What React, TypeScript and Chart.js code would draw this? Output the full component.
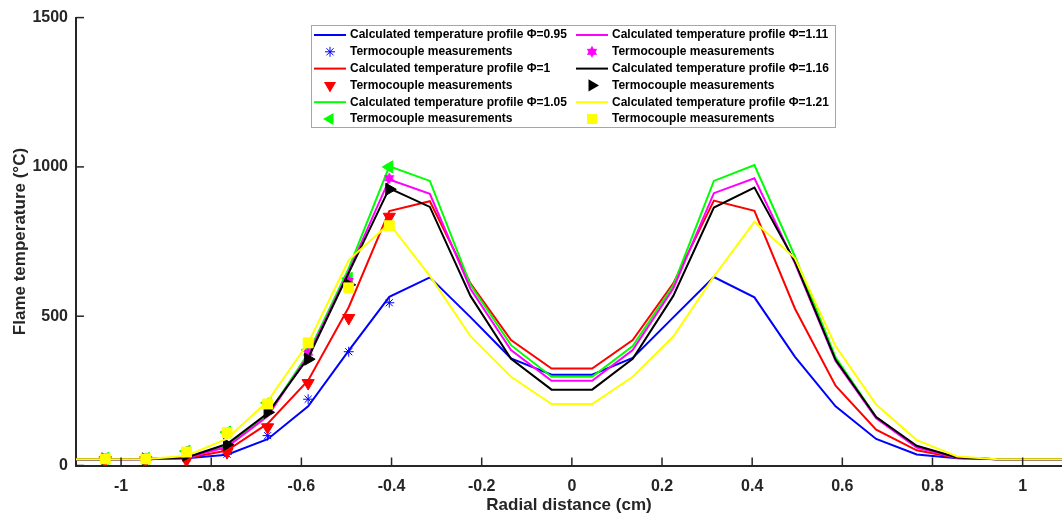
import React, { useEffect, useRef } from "react";
import { Chart, registerables } from "chart.js";

Chart.register(...registerables);

// ---------- DATA ----------
const radialGrid = [
  -1.125, -1.035, -0.945, -0.855, -0.765, -0.675, -0.585, -0.495, -0.405, -0.315, -0.225, -0.135, -0.045,
  0.045, 0.135, 0.225, 0.315, 0.405, 0.495, 0.585, 0.675, 0.765, 0.855, 0.945, 1.035, 1.125,
];

const profilePhi095 = [21, 21, 21, 24, 36, 88, 198, 385, 565, 630, 497, 359, 304, 304, 360, 496, 631, 563, 364, 198, 89, 37, 24, 21, 21, 21];
const profilePhi100 = [21, 21, 21, 24, 50, 140, 285, 530, 852, 885, 610, 420, 325, 325, 420, 610, 887, 853, 525, 267, 120, 51, 25, 21, 21, 21];
const profilePhi105 = [21, 21, 22, 26, 65, 170, 375, 660, 1002, 953, 605, 403, 297, 297, 400, 603, 953, 1006, 700, 362, 162, 62, 26, 21, 21, 21];
const profilePhi111 = [21, 21, 22, 26, 62, 165, 368, 650, 958, 910, 592, 387, 284, 284, 387, 593, 912, 962, 677, 350, 158, 60, 26, 21, 21, 21];
const profilePhi116 = [21, 21, 22, 27, 72, 175, 360, 645, 928, 866, 568, 357, 254, 254, 357, 568, 864, 931, 682, 354, 162, 66, 27, 21, 21, 21];
const profilePhi121 = [21, 21, 22, 32, 90, 215, 410, 688, 810, 635, 433, 297, 206, 206, 297, 432, 633, 816, 694, 400, 204, 85, 30, 21, 21, 21];

const measurementPositions = [-1.035, -0.945, -0.855, -0.765, -0.675, -0.585, -0.495, -0.405];
const measPhi095 = [22, 22, 25, 38, 100, 222, 381, 545];
const measPhi100 = [18, 18, 18, 45, 128, 276, 494, 833];
const measPhi105 = [24, 24, 48, 112, 210, 387, 627, 1000];
const measPhi111 = [23, 23, 46, 108, 200, 378, 618, 962];
const measPhi116 = [22, 22, 35, 70, 178, 356, 605, 925];
const measPhi121 = [22, 22, 45, 110, 206, 411, 595, 803];

const phiLabels = ["0.95", "1", "1.05", "1.11", "1.16", "1.21"];
const profileLabel = "Calculated temperature profile \u03A6=";
const measurementLabel = "Termocouple measurements";

const xTickValues = [-1, -0.8, -0.6, -0.4, -0.2, 0, 0.2, 0.4, 0.6, 0.8, 1];
const yTickValues = [0, 500, 1000, 1500];
const xAxisTitle = "Radial distance (cm)";
const yAxisTitle = "Flame temperature (\u00B0C)";

// ---------- STYLE ----------
const FONT = "'Liberation Sans', Arial, Helvetica, sans-serif";
const AXIS_COLOR = "#262626";
const seriesColors = ["#0000FF", "#FF0000", "#00FF00", "#FF00FF", "#000000", "#FFFF00"];
const markerKinds = ["star", "triDown", "triLeft", "hexagram", "triRight", "square"];

const profiles = [profilePhi095, profilePhi100, profilePhi105, profilePhi111, profilePhi116, profilePhi121];
const measurements = [measPhi095, measPhi100, measPhi105, measPhi111, measPhi116, measPhi121];

function makeHexagram(color: string, r: number): HTMLCanvasElement {
  const c = document.createElement("canvas");
  const s = Math.ceil(2 * r + 2);
  c.width = s;
  c.height = s;
  const g = c.getContext("2d")!;
  const cx = s / 2;
  const cy = s / 2;
  g.fillStyle = color;
  for (let t = 0; t < 2; t++) {
    g.beginPath();
    for (let k = 0; k < 3; k++) {
      const a = (t * 60 + k * 120 - 90) * (Math.PI / 180);
      const px = cx + r * Math.cos(a);
      const py = cy + r * Math.sin(a);
      if (k === 0) g.moveTo(px, py);
      else g.lineTo(px, py);
    }
    g.closePath();
    g.fill();
  }
  return c;
}

function drawTriangle(ctx: CanvasRenderingContext2D, x: number, y: number, r: number, rotDeg: number, color: string) {
  ctx.beginPath();
  for (let k = 0; k < 3; k++) {
    const a = (rotDeg + k * 120) * (Math.PI / 180);
    const px = x + Math.sin(a) * r;
    const py = y - Math.cos(a) * r;
    if (k === 0) ctx.moveTo(px, py);
    else ctx.lineTo(px, py);
  }
  ctx.closePath();
  ctx.fillStyle = color;
  ctx.fill();
}

function drawLegendMarker(ctx: CanvasRenderingContext2D, kind: string, x: number, y: number, color: string, hex: HTMLCanvasElement) {
  ctx.save();
  if (kind === "star") {
    const r = 5;
    ctx.strokeStyle = color;
    ctx.lineWidth = 1;
    ctx.beginPath();
    ctx.moveTo(x - r, y);
    ctx.lineTo(x + r, y);
    ctx.moveTo(x, y - r);
    ctx.lineTo(x, y + r);
    const d = r * Math.SQRT1_2;
    ctx.moveTo(x - d, y - d);
    ctx.lineTo(x + d, y + d);
    ctx.moveTo(x - d, y + d);
    ctx.lineTo(x + d, y - d);
    ctx.stroke();
  } else if (kind === "triDown") {
    drawTriangle(ctx, x, y, 7, 180, color);
  } else if (kind === "triLeft") {
    drawTriangle(ctx, x, y, 7, 270, color);
  } else if (kind === "triRight") {
    drawTriangle(ctx, x, y, 7, 90, color);
  } else if (kind === "square") {
    ctx.fillStyle = color;
    ctx.fillRect(x - 5, y - 5, 10, 10);
  } else if (kind === "hexagram") {
    ctx.drawImage(hex, x - hex.width / 2, y - hex.height / 2);
  }
  ctx.restore();
}

export default function App() {
  const canvasRef = useRef<HTMLCanvasElement | null>(null);

  useEffect(() => {
    if (!canvasRef.current) return;
    const hex = makeHexagram(seriesColors[3], 6);

    const datasets: any[] = [];
    let drawIndex = 0;
    for (let i = 0; i < 6; i++) {
      const color = seriesColors[i];
      datasets.push({
        label: profileLabel + phiLabels[i],
        data: radialGrid.map((x, j) => ({ x, y: profiles[i][j] })),
        showLine: true,
        borderColor: color,
        backgroundColor: color,
        borderWidth: 2,
        pointRadius: 0,
        tension: 0,
        order: 100 - drawIndex++,
      });
      const kind = markerKinds[i];
      let pointStyle: any = "triangle";
      let rotation = 0;
      let radius = 7;
      if (kind === "star") { pointStyle = "star"; radius = 5; }
      if (kind === "triDown") rotation = 180;
      if (kind === "triLeft") rotation = 270;
      if (kind === "triRight") rotation = 90;
      if (kind === "square") pointStyle = "rect";
      if (kind === "hexagram") { pointStyle = hex; radius = 6; }
      datasets.push({
        label: measurementLabel,
        data: measurementPositions.map((x, j) => ({ x, y: measurements[i][j] })),
        showLine: false,
        borderColor: color,
        backgroundColor: color,
        pointStyle,
        pointRotation: rotation,
        pointRadius: radius,
        pointBorderWidth: 1,
        pointBackgroundColor: kind === "star" ? "rgba(0,0,0,0)" : color,
        pointBorderColor: color,
        order: 100 - drawIndex++,
      });
    }

    const overlayPlugin = {
      id: "overlay",
      afterDraw(chart: any) {
        const ctx: CanvasRenderingContext2D = chart.ctx;
        const { left, bottom } = chart.chartArea;
        const xs = chart.scales.x;
        const ys = chart.scales.y;
        ctx.save();
        // inward tick marks
        ctx.strokeStyle = AXIS_COLOR;
        ctx.lineWidth = 1.5;
        yTickValues.forEach((v) => {
          const py = ys.getPixelForValue(v);
          ctx.beginPath();
          ctx.moveTo(left, py);
          ctx.lineTo(left + 8, py);
          ctx.stroke();
        });
        xTickValues.forEach((v) => {
          const px = xs.getPixelForValue(v);
          ctx.beginPath();
          ctx.moveTo(px, bottom);
          ctx.lineTo(px, bottom - 8);
          ctx.stroke();
        });

        // legend box
        const bx = 311.5, by = 25.5, bw = 524, bh = 102;
        ctx.fillStyle = "#ffffff";
        ctx.fillRect(bx, by, bw, bh);
        ctx.strokeStyle = "#a6a6a6";
        ctx.lineWidth = 1;
        ctx.strokeRect(bx, by, bw, bh);

        ctx.font = `bold 12px ${FONT}`;
        ctx.textBaseline = "middle";
        ctx.textAlign = "left";
        for (let i = 0; i < 6; i++) {
          const col = i < 3 ? 0 : 1;
          const rowBase = (i % 3) * 2;
          const lineX0 = col === 0 ? 314 : 576;
          const textX = col === 0 ? 350 : 612;
          const color = seriesColors[i];
          const y1 = 35 + rowBase * 16.8;
          const y2 = 35 + (rowBase + 1) * 16.8;
          ctx.strokeStyle = color;
          ctx.lineWidth = 2;
          ctx.beginPath();
          ctx.moveTo(lineX0, y1);
          ctx.lineTo(lineX0 + 32, y1);
          ctx.stroke();
          ctx.fillStyle = "#000000";
          ctx.fillText(profileLabel + phiLabels[i], textX, y1);
          drawLegendMarker(ctx, markerKinds[i], lineX0 + 16, y2, color, hex);
          ctx.fillStyle = "#000000";
          ctx.fillText(measurementLabel, textX, y2);
        }
        ctx.restore();
      },
    };

    const chart = new Chart(canvasRef.current, {
      type: "scatter",
      data: { datasets },
      plugins: [overlayPlugin],
      options: {
        animation: false,
        responsive: false,
        maintainAspectRatio: false,
        devicePixelRatio: 1,
        events: [],
        layout: { autoPadding: false, padding: { top: 17, left: 0, right: 0, bottom: 0 } },
        plugins: {
          legend: { display: false },
          tooltip: { enabled: false },
        },
        scales: {
          x: {
            type: "linear",
            min: -1.1,
            max: 1.0873,
            grid: { display: false, drawTicks: false },
            border: { display: true, color: AXIS_COLOR, width: 2 },
            afterBuildTicks: (axis: any) => {
              axis.ticks = xTickValues.map((v) => ({ value: v }));
            },
            afterFit: (scale: any) => {
              scale.height = 51.5;
              scale.paddingLeft = 0;
              scale.paddingRight = 0;
            },
            ticks: {
              color: AXIS_COLOR,
              padding: 11,
              maxRotation: 0,
              autoSkip: false,
              font: { family: FONT, size: 16, weight: "bold" },
              callback: (v: any) => String(Math.round(Number(v) * 10) / 10),
            },
            title: {
              display: true,
              text: xAxisTitle,
              color: AXIS_COLOR,
              padding: { top: 0, bottom: 1 },
              font: { family: FONT, size: 17, weight: "bold" },
            },
          },
          y: {
            type: "linear",
            min: 0,
            max: 1500,
            grid: { display: false, drawTicks: false },
            border: { display: true, color: AXIS_COLOR, width: 2 },
            afterBuildTicks: (axis: any) => {
              axis.ticks = yTickValues.map((v) => ({ value: v }));
            },
            afterFit: (scale: any) => {
              scale.width = 76;
            },
            ticks: {
              color: AXIS_COLOR,
              padding: 8,
              autoSkip: false,
              font: { family: FONT, size: 16, weight: "bold" },
              callback: (v: any) => String(Math.round(Number(v))),
            },
            title: {
              display: true,
              text: yAxisTitle,
              color: AXIS_COLOR,
              padding: { top: 10, bottom: 0 },
              font: { family: FONT, size: 17, weight: "bold" },
            },
          },
        },
      } as any,
    });

    return () => {
      chart.destroy();
    };
  }, []);

  return (
    <div style={{ position: "fixed", left: 0, top: 0, width: 1062, height: 517, background: "#ffffff" }}>
      <canvas ref={canvasRef} width={1062} height={517} style={{ display: "block", width: 1062, height: 517 }} />
    </div>
  );
}
